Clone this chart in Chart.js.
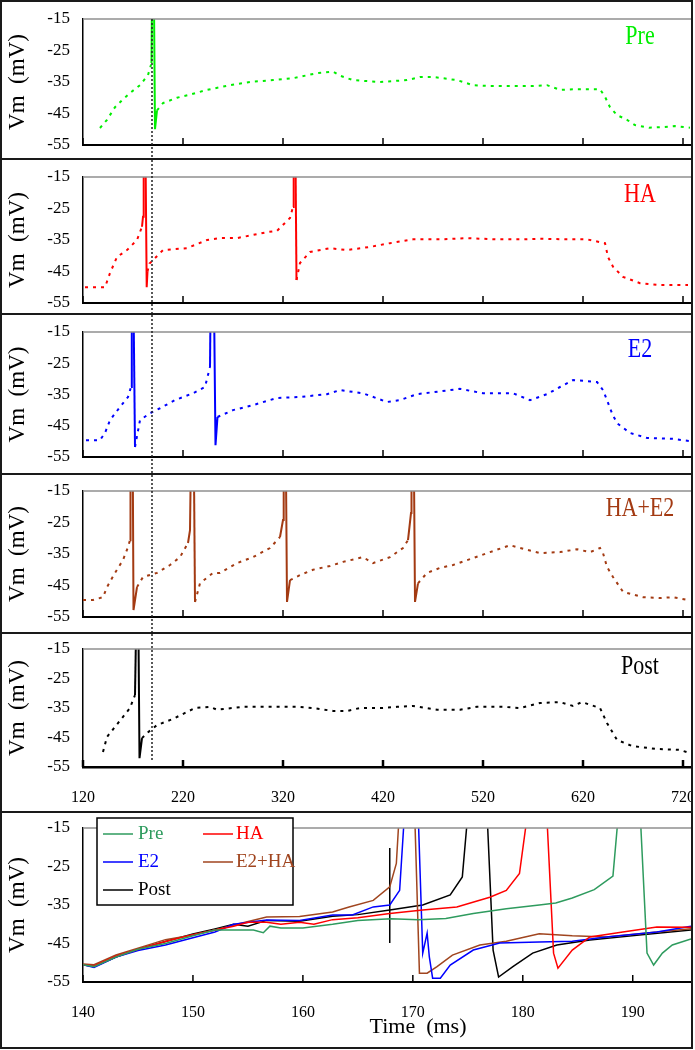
<!DOCTYPE html>
<html>
<head>
<meta charset="utf-8">
<script src="https://cdn.jsdelivr.net/npm/chart.js@4.4.0/dist/chart.umd.min.js"></script>
<style>
  body { margin: 0; background: #fff; }
  #fig { position: relative; width: 695px; height: 1050px; }
  .panel { position: absolute; left: 0; width: 693px; box-sizing: border-box; border: 2px solid #1a1a1a; background: #fff; }
  .panel canvas { display: block; }
</style>
</head>
<body>
<div id="fig">
  <div class="panel" style="top:0;height:160px"><canvas id="c1" width="689" height="156"></canvas></div>
  <div class="panel" style="top:158px;height:157px"><canvas id="c2" width="689" height="153"></canvas></div>
  <div class="panel" style="top:313px;height:162px"><canvas id="c3" width="689" height="158"></canvas></div>
  <div class="panel" style="top:473px;height:161px"><canvas id="c4" width="689" height="157"></canvas></div>
  <div class="panel" style="top:632px;height:181px"><canvas id="c5" width="689" height="177"></canvas></div>
  <div class="panel" style="top:811px;height:238px"><canvas id="c6" width="689" height="234"></canvas></div>
</div>
<script>
// tick labels
const timeTicks = [120, 220, 320, 420, 520, 620, 720];
const zoomTicks = [140, 150, 160, 170, 180, 190];
const vmTicks = [-55, -45, -35, -25, -15];
// first Pre spike, marked by the dotted line
const markerTime = 189;

// full traces, time (ms) / Vm (mV); spike tops run off the plot
const preTime = [137, 144, 152, 160, 167, 177, 185, 188.5, 189.5, 190.5, 192, 194, 200, 214, 227, 244, 267, 287, 310, 330, 354, 370, 377, 390, 417, 444, 457, 470, 494, 510, 527, 544, 570, 584, 597, 610, 624, 637, 642, 647, 654, 664, 672, 686, 700, 712, 727];
const preVm = [-49.6, -47, -43, -40.5, -38.5, -36, -32.8, -29, 10, 10, -50, -44, -41.7, -40, -39, -37.5, -36, -35, -34.4, -33.8, -32.2, -31.7, -33, -34.4, -35, -34.4, -33.4, -33.4, -34.4, -36, -36.3, -36.3, -36.3, -36, -37.5, -37.3, -37.3, -37.3, -39.7, -43, -45.5, -47, -48.7, -49.5, -49.3, -49, -49.5];

const haTime = [122, 134, 142, 147, 154, 164, 174, 179, 180, 180.7, 182, 183.7, 184.5, 186.5, 200, 224, 244, 257, 274, 290, 304, 314, 327, 330, 330.7, 332, 333.5, 337, 347, 367, 384, 407, 427, 450, 477, 504, 534, 557, 577, 604, 624, 642, 645, 650, 660, 677, 697, 725];
const haVm = [-50, -50, -50, -45.5, -40.4, -38.2, -35, -30.8, -27.6, 10, 10, -50, -45, -42.5, -38.2, -37.6, -35, -34.4, -34.4, -33.4, -32.5, -32.1, -28, -24.5, 10, 10, -47.7, -42.3, -38.8, -37.6, -38.2, -37.2, -36, -34.8, -34.8, -34.4, -34.8, -34.8, -34.6, -34.8, -34.8, -36, -40.4, -43.5, -46.7, -48.7, -49.3, -49.3];

const e2Time = [123, 137, 142, 147, 157, 165, 168, 168.8, 170, 172, 177, 187, 197, 212, 230, 242, 247, 248, 250.5, 252.5, 254.5, 270, 290, 314, 337, 364, 377, 400, 424, 437, 454, 497, 520, 550, 567, 584, 597, 610, 620, 634, 640, 644, 649, 654, 667, 684, 710, 727];
const e2Vm = [-49.6, -49.6, -47.3, -43.2, -39, -35.8, -32.6, 10, 10, -51.8, -43.2, -41, -39.4, -36.8, -34.6, -32.6, -26.2, 10, 10, -51.2, -42.2, -40, -38.4, -36.1, -35.8, -34.9, -33.6, -34.6, -37.4, -36.8, -34.9, -33.2, -34.6, -34.6, -36.8, -34.9, -32.6, -30.4, -30.6, -31, -33.6, -36.8, -41, -44.2, -47.3, -48.9, -49.2, -49.9];

const haE2Time = [120, 130, 140, 144, 152, 160, 165, 167, 167.5, 169.5, 170.5, 174, 180, 194, 207, 217, 225, 227, 228.5, 230.5, 232, 237, 250, 257, 274, 290, 307, 317, 320, 320.7, 322.5, 324, 327, 337, 350, 367, 380, 400, 410, 427, 440, 445, 448, 448.5, 450.5, 452, 455, 464, 477, 490, 510, 527, 547, 557, 577, 597, 614, 627, 637, 640, 644, 650, 660, 680, 697, 710, 725];
const haE2Vm = [-49.6, -49.6, -48.7, -45.5, -41, -36.9, -32.8, -30.6, 10, 10, -52.8, -45.5, -42.3, -41, -38.5, -36, -31.5, -27.4, 10, 10, -50.2, -44.3, -41, -41, -37.9, -36, -33.1, -29.6, -24.2, 10, 10, -50.2, -43.3, -41.7, -40, -38.8, -37.5, -36, -37.9, -36, -33.1, -30.6, -22, 10, 10, -50.2, -44.3, -41, -39.4, -38.5, -36.3, -34.4, -32.2, -33.1, -34.7, -34.4, -33.5, -34.4, -33.1, -34.7, -39.1, -42.3, -47, -48.7, -49, -48.7, -49.6];

const postTime = [140, 144, 152, 160, 167, 170, 172, 174, 175, 176.5, 179, 184, 194, 210, 232, 247, 254, 280, 304, 334, 350, 370, 384, 397, 420, 434, 450, 474, 497, 514, 540, 557, 577, 597, 610, 619, 637, 644, 654, 669, 694, 717, 727];
const postVm = [-49.9, -44.8, -41.4, -38, -35, -32.3, -30.6, 10, 10, -52, -45.2, -43.5, -40.8, -38.7, -35, -34.6, -35.6, -34.6, -34.6, -34.6, -35, -36, -36, -35, -35, -34.6, -34.3, -35.6, -35.6, -34.6, -34.6, -35, -33.3, -33, -34.3, -33, -35, -40.1, -45.8, -47.9, -48.9, -49.2, -50.3];

// bottom panel: 140-195 ms close-up of the first spike
const zPreTime = [140, 141, 143, 145, 147.5, 150, 152, 154, 155.5, 156.4, 157, 158, 160, 162.7, 165, 168, 170.5, 173, 175.5, 178.5, 181.5, 183, 184.5, 186.5, 188.2, 189.2, 190.4, 191.3, 191.9, 192.7, 193.6, 195.3];
const zPreVm = [-50.5, -51, -48.5, -46.5, -45, -43, -41.5, -41.5, -41.5, -42.2, -40.5, -41, -41, -40, -39, -38.6, -38.8, -38.5, -37.2, -36, -35, -34.5, -33.2, -31, -27.5, 5, 5, -47.5, -50.6, -47.5, -45.4, -43.8];

const zHaTime = [140, 141, 143, 145, 147.5, 150, 152, 153.7, 155, 156.7, 158, 159.7, 161, 162.7, 165, 167.9, 170.9, 174, 177, 178.5, 179.7, 181.2, 181.9, 182.8, 183.2, 184.5, 186.1, 189.1, 192.2, 195.3];
const zHaVm = [-50.5, -50.8, -48.3, -46.5, -44.5, -42.7, -41.5, -40.5, -39.5, -39.5, -40, -39.5, -40, -38.8, -38.3, -37.2, -36.3, -35.5, -33, -31.2, -26.8, 5, 5, -47.5, -51.4, -46.7, -43.3, -42, -40.7, -40.8];

const zE2Time = [140, 141, 143, 145, 147.5, 150, 152, 153.7, 156.7, 159.7, 162.7, 164.5, 166.4, 167.9, 168.8, 169.6, 170.3, 170.9, 171.3, 171.5, 171.8, 172.5, 173.4, 175.5, 177.9, 181.5, 184.5, 187.6, 192.2, 195.3];
const zE2Vm = [-50.5, -51.2, -48.5, -46.8, -45.4, -43.5, -42, -40, -38.9, -39, -37.6, -37.6, -35.5, -35, -31.2, 5, 5, -47.5, -42.3, -48.5, -54, -54, -50.6, -46.7, -44.9, -44.6, -44.4, -43.3, -42, -40.5];

const zE2HaTime = [140, 141, 143, 145, 147.5, 150, 152, 154, 156.7, 159.7, 162.7, 164.2, 166.4, 167.9, 168.5, 169.1, 170, 170.6, 171.3, 172.2, 173.6, 176.1, 178.5, 181.5, 184.5, 187.6, 192.2, 195.3];
const zE2HaVm = [-50.3, -50.5, -48, -46.2, -44, -42.8, -41.5, -40, -38.1, -38, -36.8, -35.5, -33.8, -30.3, -24.2, 5, 5, -52.7, -52.7, -51, -48, -45.4, -44.4, -42.5, -43, -43.3, -42, -41.2];

const zPostTime = [140, 141, 143, 145, 147.5, 150, 152, 153.7, 155, 156.7, 159.7, 162.7, 165, 167.9, 170.9, 173.4, 174.5, 175.5, 176.5, 177.3, 177.8, 179.1, 180.9, 183.1, 186.1, 190.6, 195.3];
const zPostVm = [-50.5, -51, -48.5, -46.5, -44.5, -42.5, -41.2, -40, -40.5, -39, -39.2, -37.9, -37.5, -36.3, -35, -32.4, -27.7, 5, 5, -46.7, -53.7, -51, -47.5, -45.4, -44.1, -42.8, -41.5];

// stimulus mark in the close-up
const stimTime = [167.9, 167.9];
const stimVm = [-20.2, -44.9];

const serif = '"Liberation Serif", "Times New Roman", serif';
Chart.defaults.font.family = serif;

function toPoints(time, vm) {
  return time.map((t, i) => ({x: t, y: vm[i]}));
}

// spikes are drawn solid, the slow parts as a broken trace
const steep = ctx => Math.abs(ctx.p1.parsed.y - ctx.p0.parsed.y) > 1.8 * Math.abs(ctx.p1.parsed.x - ctx.p0.parsed.x);

function drawLegend(chart) {
  const ctx = chart.ctx;
  const box = {x: 95, y: 5, w: 196, h: 87};
  ctx.fillStyle = '#fff';
  ctx.fillRect(box.x, box.y, box.w, box.h);
  ctx.strokeStyle = '#000';
  ctx.lineWidth = 1.5;
  ctx.strokeRect(box.x, box.y, box.w, box.h);
  ctx.font = '19px ' + serif;
  ctx.textBaseline = 'middle';
  ctx.textAlign = 'left';
  chart.data.datasets.filter(d => d.label).forEach((d, i) => {
    let lx = box.x + 6 + (i % 2) * 100;
    let ly = box.y + 16 + Math.floor(i / 2) * 28;
    ctx.strokeStyle = d.borderColor;
    ctx.lineWidth = 1.5;
    ctx.beginPath();
    ctx.moveTo(lx, ly);
    ctx.lineTo(lx + 30, ly);
    ctx.stroke();
    ctx.fillStyle = d.borderColor;
    ctx.fillText(d.label, lx + 35 - (i % 2) * 2, ly);
  });
}

const panelDecor = {
  id: 'panelDecor',
  afterDraw(chart, args, o) {
    const {ctx, chartArea: a} = chart;
    const x = chart.scales.x;
    ctx.save();
    // grey frame along the top of the plot
    ctx.strokeStyle = '#8f8f8f';
    ctx.lineWidth = 1.5;
    ctx.beginPath();
    ctx.moveTo(a.left, a.top);
    ctx.lineTo(a.right, a.top);
    ctx.stroke();
    // ticks point up into the plot
    ctx.strokeStyle = '#000';
    ctx.lineWidth = o.tickWidth || 1.5;
    x.ticks.forEach(t => {
      let px = x.getPixelForValue(t.value);
      ctx.beginPath();
      ctx.moveTo(px, a.bottom);
      ctx.lineTo(px, a.bottom - 7);
      ctx.stroke();
    });
    if (o.marker) {
      let px = x.getPixelForValue(markerTime);
      ctx.strokeStyle = '#222';
      ctx.lineWidth = 1.5;
      ctx.setLineDash([2, 2]);
      ctx.beginPath();
      ctx.moveTo(px, o.marker[0] === 'area' ? a.top : 0);
      ctx.lineTo(px, o.marker[1] === 'area' ? a.bottom - 5 : chart.height);
      ctx.stroke();
      ctx.setLineDash([]);
    }
    if (o.label) {
      ctx.save();
      ctx.translate(a.right - 51, a.top + 25);
      ctx.scale(1, 1.2);
      ctx.font = '22px ' + serif;
      ctx.fillStyle = o.labelColor;
      ctx.textAlign = 'center';
      ctx.textBaseline = 'alphabetic';
      ctx.fillText(o.label, 0, 0);
      ctx.restore();
    }
    if (o.xTitle) {
      ctx.font = '22px ' + serif;
      ctx.fillStyle = '#000';
      ctx.textAlign = 'center';
      ctx.textBaseline = 'middle';
      ctx.fillText(o.xTitle, (a.left + a.right) / 2 + 31, a.bottom + 45);
    }
    if (o.legend) drawLegend(chart);
    ctx.restore();
  }
};

function yScale() {
  return {
    type: 'linear', min: -55, max: -15,
    afterBuildTicks: s => { s.ticks = vmTicks.map(v => ({value: v})); },
    afterFit: s => { s.width = 81; s.paddingTop = 0; s.paddingBottom = 0; },
    grid: {display: false, drawTicks: false},
    border: {display: true, color: '#000', width: 1.5},
    ticks: {color: '#000', padding: 13, font: {family: serif, size: 17}},
    title: {display: true, text: 'Vm  (mV)', color: '#000', font: {family: serif, size: 23}, padding: {top: 2, bottom: 0}}
  };
}

function xScale(min, max, ticks, axisHeight, showLabels, axisWidth) {
  return {
    type: 'linear', min: min, max: max,
    afterBuildTicks: s => { s.ticks = ticks.map(v => ({value: v})); },
    afterFit: s => { s.height = axisHeight; s.paddingLeft = 0; s.paddingRight = 0; },
    grid: {display: false, drawTicks: false},
    border: {display: true, color: '#000', width: axisWidth},
    ticks: {display: showLabels, color: '#000', padding: 21, maxRotation: 0, autoSkip: false, font: {family: serif, size: 16}}
  };
}

const panels = [
  {id: 'c1', name: 'Pre', color: '#00ee00', time: preTime, vm: preVm, top: 17, axis: 13, marker: ['area', 'canvas']},
  {id: 'c2', name: 'HA', color: '#ff0000', time: haTime, vm: haVm, top: 17, axis: 10, marker: ['canvas', 'canvas']},
  {id: 'c3', name: 'E2', color: '#0000ff', time: e2Time, vm: e2Vm, top: 17, axis: 16, marker: ['canvas', 'canvas']},
  {id: 'c4', name: 'HA+E2', color: '#a33a12', time: haE2Time, vm: haE2Vm, top: 16, axis: 15, marker: ['canvas', 'canvas']},
  {id: 'c5', name: 'Post', color: '#000000', time: postTime, vm: postVm, top: 15, axis: 44, marker: ['canvas', 'area'], labels: true, axisWidth: 2.5}
];

panels.forEach(p => {
  new Chart(document.getElementById(p.id), {
    type: 'line',
    data: {
      datasets: [{
        label: p.name,
        data: toPoints(p.time, p.vm),
        borderColor: p.color,
        borderWidth: 2,
        pointRadius: 0,
        tension: 0,
        segment: { borderDash: ctx => steep(ctx) ? [] : [3, 5] }
      }]
    },
    options: {
      responsive: false,
      animation: false,
      events: [],
      layout: { padding: {top: p.top, left: 0, right: 0, bottom: 0} },
      plugins: {
        legend: {display: false},
        tooltip: {enabled: false},
        panelDecor: {label: p.name, labelColor: p.color, marker: p.marker, tickWidth: p.axisWidth || 1.5}
      },
      scales: {
        x: xScale(120, 728, timeTicks, p.axis, !!p.labels, p.axisWidth || 2),
        y: yScale()
      }
    },
    plugins: [panelDecor]
  });
});

function zoomSet(label, color, time, vm) {
  return {label: label, data: toPoints(time, vm), borderColor: color, borderWidth: 1.5, pointRadius: 0, tension: 0};
}

new Chart(document.getElementById('c6'), {
  type: 'line',
  data: {
    datasets: [
      zoomSet('Pre', '#2e9b5e', zPreTime, zPreVm),
      zoomSet('HA', '#ff0000', zHaTime, zHaVm),
      zoomSet('E2', '#0000ff', zE2Time, zE2Vm),
      zoomSet('E2+HA', '#a0451f', zE2HaTime, zE2HaVm),
      zoomSet('Post', '#000000', zPostTime, zPostVm),
      zoomSet('', '#000000', stimTime, stimVm)
    ]
  },
  options: {
    responsive: false,
    animation: false,
    events: [],
    layout: { padding: {top: 15, left: 0, right: 0, bottom: 0} },
    plugins: {
      legend: {display: false},
      tooltip: {enabled: false},
      panelDecor: {legend: true, xTitle: 'Time  (ms)', tickWidth: 1.5}
    },
    scales: {
      x: xScale(140, 195.3, zoomTicks, 65, true, 2),
      y: yScale()
    }
  },
  plugins: [panelDecor]
});
</script>
</body>
</html>
